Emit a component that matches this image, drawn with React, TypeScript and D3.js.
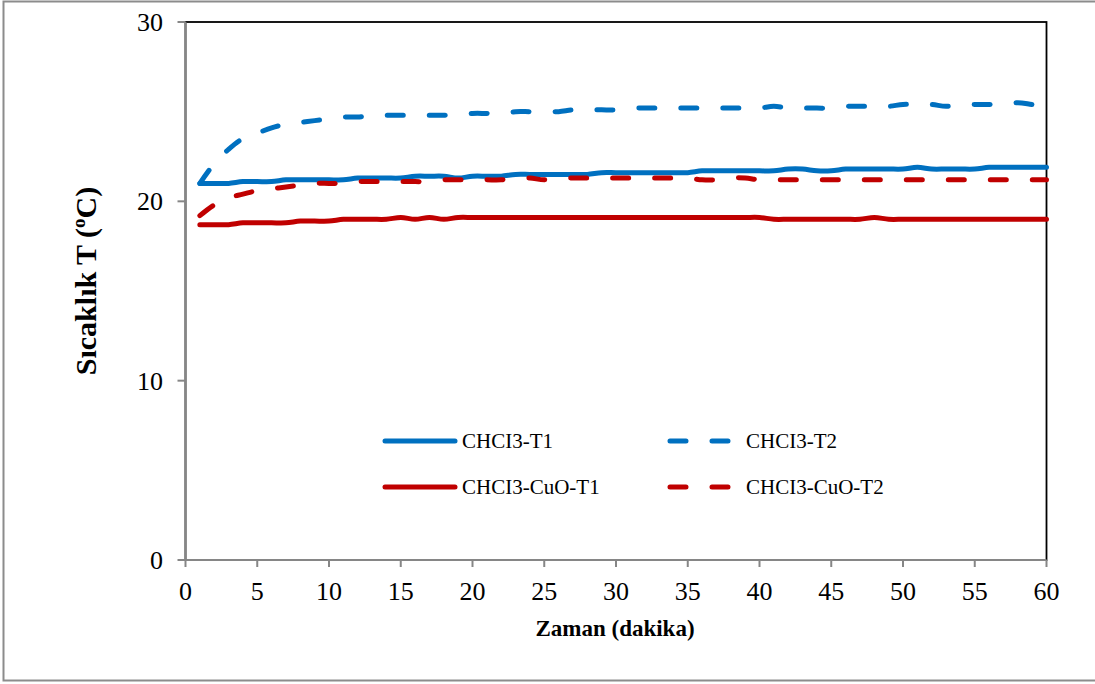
import React from "react";
import * as d3 from "d3";

const minutes: number[] = d3.range(1, 61);

const chcl3T1: number[] = [
  21.0, 21.0, 21.0, 21.1, 21.1, 21.1, 21.2, 21.2, 21.2, 21.2,
  21.2, 21.3, 21.3, 21.3, 21.3, 21.4, 21.4, 21.4, 21.3, 21.4,
  21.4, 21.4, 21.5, 21.5, 21.5, 21.5, 21.5, 21.5, 21.6, 21.6,
  21.6, 21.6, 21.6, 21.6, 21.6, 21.7, 21.7, 21.7, 21.7, 21.7,
  21.7, 21.8, 21.8, 21.7, 21.7, 21.8, 21.8, 21.8, 21.8, 21.8,
  21.9, 21.8, 21.8, 21.8, 21.8, 21.9, 21.9, 21.9, 21.9, 21.9,
];

const chcl3T2: number[] = [
  21.0, 22.1, 22.9, 23.5, 23.8, 24.1, 24.3, 24.4, 24.5, 24.6,
  24.7, 24.7, 24.8, 24.8, 24.8, 24.8, 24.8, 24.8, 24.8, 24.9,
  24.9, 24.9, 25.0, 25.0, 25.0, 25.0, 25.1, 25.1, 25.1, 25.1,
  25.2, 25.2, 25.2, 25.2, 25.2, 25.2, 25.2, 25.2, 25.2, 25.2,
  25.3, 25.2, 25.2, 25.2, 25.2, 25.3, 25.3, 25.3, 25.3, 25.4,
  25.4, 25.4, 25.3, 25.4, 25.4, 25.4, 25.4, 25.5, 25.4, 25.3,
];

const cuoT1: number[] = [
  18.7, 18.7, 18.7, 18.8, 18.8, 18.8, 18.8, 18.9, 18.9, 18.9,
  19.0, 19.0, 19.0, 19.0, 19.1, 19.0, 19.1, 19.0, 19.1, 19.1,
  19.1, 19.1, 19.1, 19.1, 19.1, 19.1, 19.1, 19.1, 19.1, 19.1,
  19.1, 19.1, 19.1, 19.1, 19.1, 19.1, 19.1, 19.1, 19.1, 19.1,
  19.0, 19.0, 19.0, 19.0, 19.0, 19.0, 19.0, 19.1, 19.0, 19.0,
  19.0, 19.0, 19.0, 19.0, 19.0, 19.0, 19.0, 19.0, 19.0, 19.0,
];

const cuoT2: number[] = [
  19.2, 19.8, 20.2, 20.4, 20.6, 20.7, 20.8, 20.9, 21.0, 21.0,
  21.0, 21.1, 21.1, 21.1, 21.1, 21.1, 21.1, 21.2, 21.2, 21.2,
  21.2, 21.2, 21.3, 21.3, 21.2, 21.3, 21.3, 21.3, 21.3, 21.3,
  21.3, 21.3, 21.3, 21.3, 21.3, 21.2, 21.2, 21.3, 21.3, 21.2,
  21.2, 21.2, 21.2, 21.2, 21.2, 21.2, 21.2, 21.2, 21.2, 21.2,
  21.2, 21.2, 21.2, 21.2, 21.2, 21.2, 21.2, 21.2, 21.2, 21.2,
];

const xTicks: number[] = [0, 5, 10, 15, 20, 25, 30, 35, 40, 45, 50, 55, 60];
const yTicks: number[] = [0, 10, 20, 30];

const seriesNames: string[] = ["CHCI3-T1", "CHCI3-T2", "CHCI3-CuO-T1", "CHCI3-CuO-T2"];
const seriesColors: string[] = ["#0070C0", "#0070C0", "#C00000", "#C00000"];
const seriesDashed: boolean[] = [false, true, false, true];
const seriesValues: number[][] = [chcl3T1, chcl3T2, cuoT1, cuoT2];

const W = 1095;
const H = 684;
const FONT = "'Liberation Serif', 'Times New Roman', serif";

export default function App() {
  const x = d3.scaleLinear().domain([0, 60]).range([185.5, 1046.5]);
  const y = d3.scaleLinear().domain([0, 30]).range([560, 22]);

  const line = d3
    .line<number>()
    .x((_, i) => x(minutes[i]))
    .y((v) => y(v))
    .curve(d3.curveCatmullRom.alpha(0.5));

  const dash = "16 26";

  const legendItems = [
    { x1: 385, x2: 455, ty: 441, tx: 462 },
    { x1: 670, x2: 733, ty: 441, tx: 746 },
    { x1: 385, x2: 455, ty: 487, tx: 462 },
    { x1: 670, x2: 733, ty: 487, tx: 746 },
  ];

  return (
    <svg
      width={W}
      height={H}
      style={{ position: "absolute", left: 0, top: 0, display: "block", background: "#fff" }}
    >
      {/* outer frame */}
      <rect x={3.5} y={1.5} width={1095} height={679} fill="#fff" stroke="#8c8c8c" strokeWidth={2} />

      {/* plot area border */}
      <rect
        x={x(0)}
        y={y(30)}
        width={x(60) - x(0)}
        height={y(0) - y(30)}
        fill="none"
        stroke="#000"
        strokeWidth={1.8}
      />

      {/* axes */}
      <line x1={x(0)} x2={x(0)} y1={y(30)} y2={y(0)} stroke="#868686" strokeWidth={2} />
      <line x1={x(0)} x2={x(60)} y1={y(0)} y2={y(0)} stroke="#868686" strokeWidth={2} />

      {yTicks.map((t) => (
        <g key={"y" + t}>
          <line x1={x(0) - 8} x2={x(0)} y1={y(t)} y2={y(t)} stroke="#868686" strokeWidth={2} />
          <text
            x={163}
            y={y(t)}
            dy="0.35em"
            textAnchor="end"
            fontFamily={FONT}
            fontSize={26}
            fill="#000"
          >
            {t}
          </text>
        </g>
      ))}

      {xTicks.map((t) => (
        <g key={"x" + t}>
          <line x1={x(t)} x2={x(t)} y1={y(0)} y2={y(0) + 7} stroke="#868686" strokeWidth={2} />
          <text
            x={x(t)}
            y={600}
            textAnchor="middle"
            fontFamily={FONT}
            fontSize={26}
            fill="#000"
          >
            {t}
          </text>
        </g>
      ))}

      {/* series */}
      {seriesValues.map((vals, i) => (
        <path
          key={"s" + i}
          d={line(vals) || ""}
          fill="none"
          stroke={seriesColors[i]}
          strokeWidth={5}
          strokeLinecap="round"
          strokeLinejoin="round"
          strokeDasharray={seriesDashed[i] ? dash : undefined}
        />
      ))}

      {/* legend */}
      {legendItems.map((it, i) => (
        <g key={"l" + i}>
          <line
            x1={it.x1}
            x2={it.x2}
            y1={it.ty}
            y2={it.ty}
            stroke={seriesColors[i]}
            strokeWidth={5}
            strokeLinecap="round"
            strokeDasharray={seriesDashed[i] ? dash : undefined}
          />
          <text x={it.tx} y={it.ty} dy="0.33em" fontFamily={FONT} fontSize={21} fill="#000">
            {seriesNames[i]}
          </text>
        </g>
      ))}

      {/* axis titles */}
      <text
        x={615}
        y={636}
        textAnchor="middle"
        fontFamily={FONT}
        fontSize={23}
        fontWeight="bold"
        fill="#000"
      >
        Zaman (dakika)
      </text>
      <text
        transform={`translate(96, 281) rotate(-90)`}
        textAnchor="middle"
        fontFamily={FONT}
        fontSize={30}
        fontWeight="bold"
        fill="#000"
      >
        Sıcaklık T (
        <tspan fontSize={19} dy={-11}>o</tspan>
        <tspan dy={11}>C)</tspan>
      </text>
    </svg>
  );
}
